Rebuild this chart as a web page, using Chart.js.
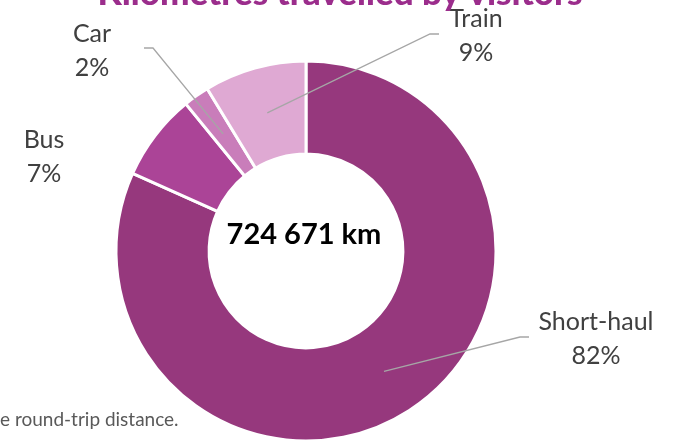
<!DOCTYPE html>
<html>
<head>
<meta charset="utf-8">
<script src="https://cdn.jsdelivr.net/npm/chart.js@4/dist/chart.umd.min.js"></script>
<style>
  html, body { margin: 0; padding: 0; background: #fff; overflow: hidden; }
  #wrap { width: 673px; height: 440px; overflow: hidden; }
</style>
</head>
<body>
<div id="wrap"><canvas id="chart" width="673" height="460"></canvas></div>
<script>
// chart values
const categories = ["Short-haul", "Bus", "Car", "Train"];
const shares = [81.7, 7.4, 2.2, 8.7];
const totalKm = 724671;
const titleText = "Kilometres travelled by visitors";
const footnoteText = "e round-trip distance.";

const sliceColors = ["#96387d", "#ab4497", "#c97dba", "#dfa9d3"];
const FONT = "Lato, 'Open Sans', sans-serif";
const TEXT_COLOR = "#404040";
const LEADER_COLOR = "#a6a6a6";

// label placement (baseline of first line) and leader line elbows
const labelLayout = {
  "Short-haul": { x: 596, y: 330, elbow: [520, 337], end: [529, 337] },
  "Bus": { x: 44, y: 148 },
  "Car": { x: 92, y: 42, elbow: [153, 48], end: [144, 48] },
  "Train": { x: 476, y: 27, elbow: [430, 34], end: [439, 34] },
};

function formatKm(n) {
  return n.toString().replace(/\B(?=(\d{3})+(?!\d))/g, " ") + " km";
}

const annotations = {
  id: "annotations",
  afterDraw(chart) {
    const ctx = chart.ctx;
    const arcs = chart.getDatasetMeta(0).data;
    const sum = shares.reduce((a, b) => a + b, 0);
    ctx.save();

    // leader lines
    ctx.strokeStyle = LEADER_COLOR;
    ctx.lineWidth = 1.3;
    arcs.forEach((arc, i) => {
      const lay = labelLayout[categories[i]];
      if (!lay.elbow) return;
      const p = arc.tooltipPosition();
      ctx.beginPath();
      ctx.moveTo(p.x, p.y);
      ctx.lineTo(lay.elbow[0], lay.elbow[1]);
      ctx.lineTo(lay.end[0], lay.end[1]);
      ctx.stroke();
    });

    // category labels
    ctx.fillStyle = TEXT_COLOR;
    ctx.font = `25px ${FONT}`;
    ctx.textAlign = "center";
    ctx.textBaseline = "alphabetic";
    categories.forEach((cat, i) => {
      const lay = labelLayout[cat];
      ctx.fillText(cat, lay.x, lay.y);
      ctx.fillText(Math.round((shares[i] / sum) * 100) + "%", lay.x, lay.y + 34);
    });

    // centre total
    const c = arcs[0];
    ctx.fillStyle = "#000";
    ctx.font = `bold 29px ${FONT}`;
    ctx.fillText(formatKm(totalKm), c.x - 2, 244);

    // title, cut off by the top edge
    ctx.fillStyle = "#9b2d8c";
    ctx.font = `900 35px ${FONT}`;
    ctx.fillText(titleText, 340, 5);

    // footnote, cut off by the left edge
    ctx.fillStyle = "#595959";
    ctx.font = `19px ${FONT}`;
    ctx.textAlign = "left";
    ctx.fillText(footnoteText, 0, 426);

    ctx.restore();
  },
};

new Chart(document.getElementById("chart"), {
  type: "doughnut",
  data: {
    labels: categories,
    datasets: [{
      data: shares,
      backgroundColor: sliceColors,
      borderColor: "#ffffff",
      borderWidth: 3,
    }],
  },
  options: {
    responsive: false,
    animation: false,
    events: [],
    radius: 190,
    cutout: "51%",
    layout: { padding: { top: 61, bottom: 19, left: 116, right: 177 } },
    plugins: {
      legend: { display: false },
      tooltip: { enabled: false },
      title: { display: false },
    },
  },
  plugins: [annotations],
});
</script>
</body>
</html>
